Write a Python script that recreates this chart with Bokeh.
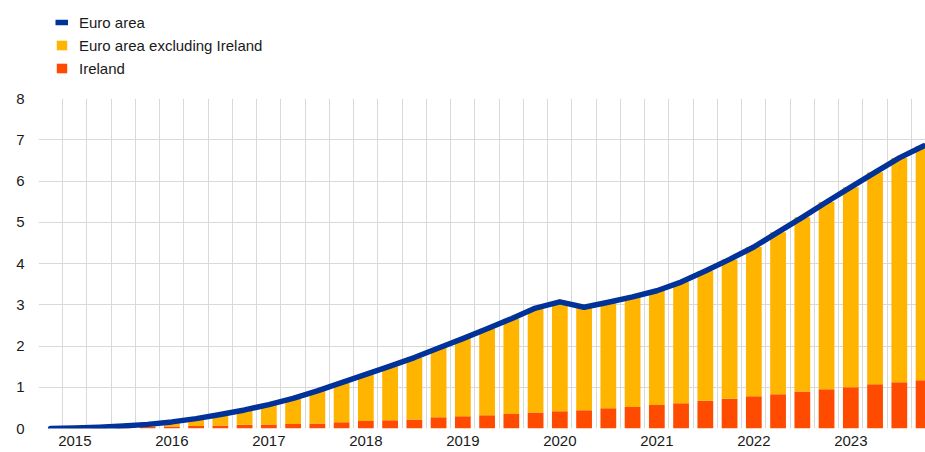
from bokeh.plotting import figure
from bokeh.layouts import column
from bokeh.models import ColumnDataSource, FixedTicker, Legend, LegendItem
from bokeh.embed import file_html
from bokeh.resources import INLINE

# Quarterly positions 2014Q4 .. 2023Q4
quarters = list(range(37))
year_ticks = [1, 5, 9, 13, 17, 21, 25, 29, 33]
year_labels = ["2015", "2016", "2017", "2018", "2019", "2020", "2021", "2022", "2023"]

ireland = [0.00, 0.00, 0.01, 0.02, 0.04, 0.05, 0.06, 0.07, 0.09, 0.10,
           0.11, 0.12, 0.15, 0.18, 0.20, 0.22, 0.27, 0.30, 0.32, 0.35,
           0.39, 0.42, 0.44, 0.49, 0.52, 0.57, 0.61, 0.67, 0.72, 0.78,
           0.83, 0.90, 0.95, 1.00, 1.07, 1.12, 1.17]
euro_ex_ireland = [0.00, 0.01, 0.02, 0.04, 0.06, 0.11, 0.18, 0.27, 0.36, 0.48,
                   0.62, 0.79, 0.96, 1.13, 1.31, 1.50, 1.68, 1.88, 2.10, 2.31,
                   2.53, 2.65, 2.50, 2.57, 2.67, 2.77, 2.94, 3.15, 3.38, 3.62,
                   3.93, 4.22, 4.54, 4.85, 5.14, 5.44, 5.68]
euro_area = [0.00, 0.01, 0.03, 0.06, 0.10, 0.16, 0.24, 0.34, 0.45, 0.58,
             0.73, 0.91, 1.11, 1.31, 1.51, 1.72, 1.95, 2.18, 2.42, 2.66,
             2.92, 3.07, 2.94, 3.06, 3.19, 3.34, 3.55, 3.82, 4.10, 4.40,
             4.76, 5.12, 5.49, 5.85, 6.21, 6.56, 6.85]
series_names = ["Euro area", "Euro area excluding Ireland", "Ireland"]

BLUE = "#003299"
YELLOW = "#FFB400"
RED = "#FF4B00"
GRID = "#d9d9d9"
FONT = "Liberation Sans"
TXT = "#1a1a1a"

W = 925
LEG_H = 80

src = ColumnDataSource(dict(x=quarters, ie=ireland, exie=euro_ex_ireland, ea=euro_area))

p = figure(width=W, height=452 - LEG_H, output_backend="svg", toolbar_location=None,
           x_range=(-0.5, 36.08), y_range=(0, 8),
           min_border_left=38, min_border_right=0, min_border_top=98 - LEG_H,
           min_border_bottom=24)
p.outline_line_color = None
p.background_fill_color = "white"

bars = p.vbar_stack(["ie", "exie"], x="x", width=0.65, source=src,
                    color=[RED, YELLOW], line_color=None)
line = p.line("x", "ea", source=src, line_color=BLUE, line_width=5.5,
              line_cap="round", line_join="round")

p.xaxis.ticker = FixedTicker(ticks=year_ticks)
p.xaxis.major_label_overrides = {t: l for t, l in zip(year_ticks, year_labels)}
p.yaxis.ticker = FixedTicker(ticks=list(range(9)))
for ax in (p.xaxis[0], p.yaxis[0]):
    ax.axis_line_color = None
    ax.major_tick_line_color = None
    ax.minor_tick_line_color = None
    ax.major_tick_out = 0
    ax.major_tick_in = 0
    ax.major_label_text_font = FONT
    ax.major_label_text_font_size = "15px"
    ax.major_label_text_color = TXT
p.xaxis.major_label_standoff = 7
p.yaxis.major_label_standoff = 14

p.xgrid.ticker = FixedTicker(ticks=[k + 0.5 for k in range(-1, 37)])
p.xgrid.grid_line_color = GRID
p.ygrid.grid_line_color = GRID

# legend panel: an axis-free figure on top; its stand-in renderers use the
# same data but sit outside that figure's visible ranges
lg = figure(width=W, height=LEG_H, output_backend="svg", toolbar_location=None,
            x_range=(1000, 1001), y_range=(1000, 1001), min_border=0)
lg.axis.visible = False
lg.grid.visible = False
lg.outline_line_color = None
l_line = lg.line("x", "ea", source=src, line_color=BLUE, line_width=5.5)
l_yel = lg.vbar(x="x", top="exie", width=0.65, source=src, color=YELLOW, line_color=None)
l_red = lg.vbar(x="x", top="ie", width=0.65, source=src, color=RED, line_color=None)

legend = Legend(items=[
    LegendItem(label=series_names[0], renderers=[l_line]),
    LegendItem(label=series_names[1], renderers=[l_yel]),
    LegendItem(label=series_names[2], renderers=[l_red]),
], location=(17, 1))
legend.border_line_color = None
legend.background_fill_alpha = 0
legend.padding = 0
legend.margin = 0
legend.spacing = 1
legend.glyph_width = 13
legend.glyph_height = 12
legend.label_height = 22
legend.label_standoff = 11
legend.label_text_font = FONT
legend.label_text_font_size = "15px"
legend.label_text_color = TXT
lg.add_layout(legend, "center")

layout = column(lg, p, spacing=0)
open("out.html", "w").write(file_html(layout, INLINE))
